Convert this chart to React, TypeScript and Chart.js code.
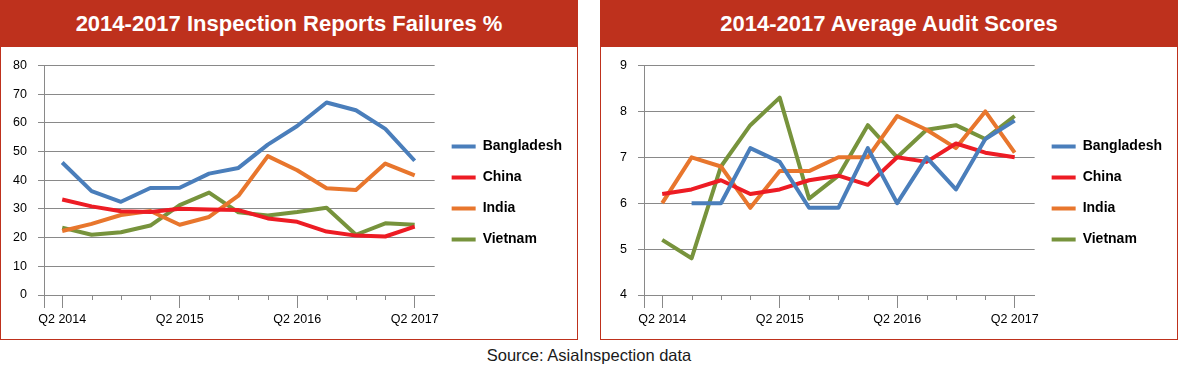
import React, { useEffect, useRef } from 'react';
import { Chart, registerables } from 'chart.js';

Chart.register(...registerables);

const quarters = [
  'Q2 2014', 'Q3 2014', 'Q4 2014', 'Q1 2015', 'Q2 2015', 'Q3 2015', 'Q4 2015',
  'Q1 2016', 'Q2 2016', 'Q3 2016', 'Q4 2016', 'Q1 2017', 'Q2 2017',
];
const countries = ['Bangladesh', 'China', 'India', 'Vietnam'];
const lineColors = ['#4A7EBB', '#ED1C24', '#E8762D', '#77933C'];

const failBangladesh = [46.2, 36.2, 32.5, 37.3, 37.4, 42.3, 44.3, 52.4, 58.9, 67.1, 64.4, 57.9, 46.8];
const failChina = [33.3, 30.9, 29.2, 28.9, 30.1, 29.8, 29.6, 26.7, 25.5, 22.1, 20.7, 20.4, 23.8];
const failIndia = [22.3, 24.8, 27.9, 29.3, 24.5, 27.2, 34.6, 48.4, 43.5, 37.2, 36.6, 45.8, 41.7];
const failVietnam = [23.5, 21.0, 21.9, 24.2, 31.3, 35.7, 28.8, 27.7, 28.9, 30.4, 21.0, 25.0, 24.5];

const scoreBangladesh = [null, 6.0, 6.0, 7.2, 6.9, 5.9, 5.9, 7.2, 6.0, 7.0, 6.3, 7.4, 7.8];
const scoreChina = [6.2, 6.3, 6.5, 6.2, 6.3, 6.5, 6.6, 6.4, 7.0, 6.9, 7.3, 7.1, 7.0];
const scoreIndia = [6.0, 7.0, 6.8, 5.9, 6.7, 6.7, 7.0, 7.0, 7.9, 7.6, 7.2, 8.0, 7.1];
const scoreVietnam = [5.2, 4.8, 6.8, 7.7, 8.3, 6.1, 6.6, 7.7, 7.0, 7.6, 7.7, 7.4, 7.9];

const failTitle = '2014-2017 Inspection Reports Failures %';
const scoreTitle = '2014-2017 Average Audit Scores';
const sourceText = 'Source: AsiaInspection data';

const FONT = "'Liberation Sans', Arial, sans-serif";
const GRID = '#898989';
const BAND = '#BE311D';

const minorTicks = {
  id: 'minorTicks',
  afterDraw(chart: any) {
    const xs = chart.scales.x;
    const ctx = chart.ctx;
    ctx.save();
    ctx.strokeStyle = GRID;
    ctx.lineWidth = 1;
    quarters.forEach((_, i) => {
      if (i % 4 !== 0) {
        const px = Math.round(xs.getPixelForValue(i)) + 0.5;
        ctx.beginPath();
        ctx.moveTo(px, xs.top);
        ctx.lineTo(px, xs.top + 5);
        ctx.stroke();
      }
    });
    ctx.restore();
  },
};

type Props = {
  series: (number | null)[][];
  yMin: number;
  yMax: number;
  yStep: number;
};

function LineChart({ series, yMin, yMax, yStep }: Props) {
  const ref = useRef<HTMLCanvasElement>(null);
  useEffect(() => {
    if (!ref.current) return;
    const chart = new Chart(ref.current, {
      type: 'line',
      data: {
        datasets: countries.map((name, k) => ({
          label: name,
          data: series[k].map((v, i) => ({ x: i, y: v })),
          borderColor: lineColors[k],
          backgroundColor: lineColors[k],
          borderWidth: 4,
          pointRadius: 0,
          tension: 0,
          borderJoinStyle: 'round' as const,
          spanGaps: false,
        })),
      },
      options: {
        animation: false,
        responsive: false,
        maintainAspectRatio: false,
        layout: { padding: { top: 10, bottom: 10, left: 0, right: 5 } },
        plugins: {
          tooltip: { enabled: false },
          legend: {
            position: 'right',
            align: 'center',
            labels: {
              usePointStyle: true,
              pointStyle: 'line',
              pointStyleWidth: 24,
              padding: 17,
              color: '#000',
              font: { family: FONT, size: 14, weight: 'bold' },
            },
          },
        },
        scales: {
          x: {
            type: 'linear',
            min: -0.62,
            max: 12.68,
            afterBuildTicks: (s: any) => {
              s.ticks = [{ value: s.min }, ...quarters.map((_, i) => ({ value: i }))];
            },
            afterFit: (s: any) => {
              s.height = 34;
            },
            ticks: {
              autoSkip: false,
              maxRotation: 0,
              minRotation: 0,
              padding: 4,
              color: '#000',
              font: { family: FONT, size: 12.5 },
              callback: (v: any) =>
                Number.isInteger(v) && v % 4 === 0 && v >= 0 ? quarters[v] : '',
            },
            grid: {
              drawOnChartArea: false,
              drawTicks: true,
              tickLength: 13,
              color: GRID,
              tickColor: (c: any) => {
                const v = c.tick ? c.tick.value : 0;
                return v < 0 || (Number.isInteger(v) && v % 4 === 0) ? GRID : 'rgba(0,0,0,0)';
              },
            },
            border: { color: GRID, width: 1 },
          },
          y: {
            min: yMin,
            max: yMax,
            afterFit: (s: any) => {
              s.width = 43;
            },
            ticks: {
              stepSize: yStep,
              padding: 11,
              color: '#000',
              font: { family: FONT, size: 12.5 },
            },
            grid: { color: GRID, tickLength: 6, drawTicks: true, lineWidth: 1 },
            border: { color: GRID, width: 1 },
          },
        },
      },
      plugins: [minorTicks],
    } as any);
    return () => chart.destroy();
  }, []);
  return <canvas ref={ref} width={576} height={292} style={{ display: 'block', width: 576, height: 292 }} />;
}

function Panel({ left, title, children }: { left: number; title: string; children: React.ReactNode }) {
  return (
    <div
      style={{
        position: 'absolute',
        left,
        top: 0,
        width: 578,
        height: 340,
        boxSizing: 'border-box',
        border: `1px solid ${BAND}`,
        background: '#fff',
      }}
    >
      <div
        style={{
          position: 'absolute',
          left: -1,
          top: -1,
          width: 578,
          height: 47,
          background: BAND,
          color: '#fff',
          fontFamily: FONT,
          fontWeight: 'bold',
          fontSize: 22,
          display: 'flex',
          alignItems: 'center',
          justifyContent: 'center',
          whiteSpace: 'nowrap',
        }}
      >
        {title}
      </div>
      <div style={{ position: 'absolute', left: 0, top: 46, width: 576, height: 292 }}>{children}</div>
    </div>
  );
}

export default function App() {
  return (
    <div
      style={{
        position: 'absolute',
        left: 0,
        top: 0,
        width: 1178,
        height: 373,
        overflow: 'hidden',
        background: '#fff',
      }}
    >
      <Panel left={0} title={failTitle}>
        <LineChart series={[failBangladesh, failChina, failIndia, failVietnam]} yMin={0} yMax={80} yStep={10} />
      </Panel>
      <Panel left={600} title={scoreTitle}>
        <LineChart series={[scoreBangladesh, scoreChina, scoreIndia, scoreVietnam]} yMin={4} yMax={9} yStep={1} />
      </Panel>
      <div
        style={{
          position: 'absolute',
          left: 0,
          top: 345,
          width: 1178,
          textAlign: 'center',
          fontFamily: FONT,
          fontSize: 16.5,
          color: '#1a1a1a',
          lineHeight: '20px',
        }}
      >
        {sourceText}
      </div>
    </div>
  );
}
